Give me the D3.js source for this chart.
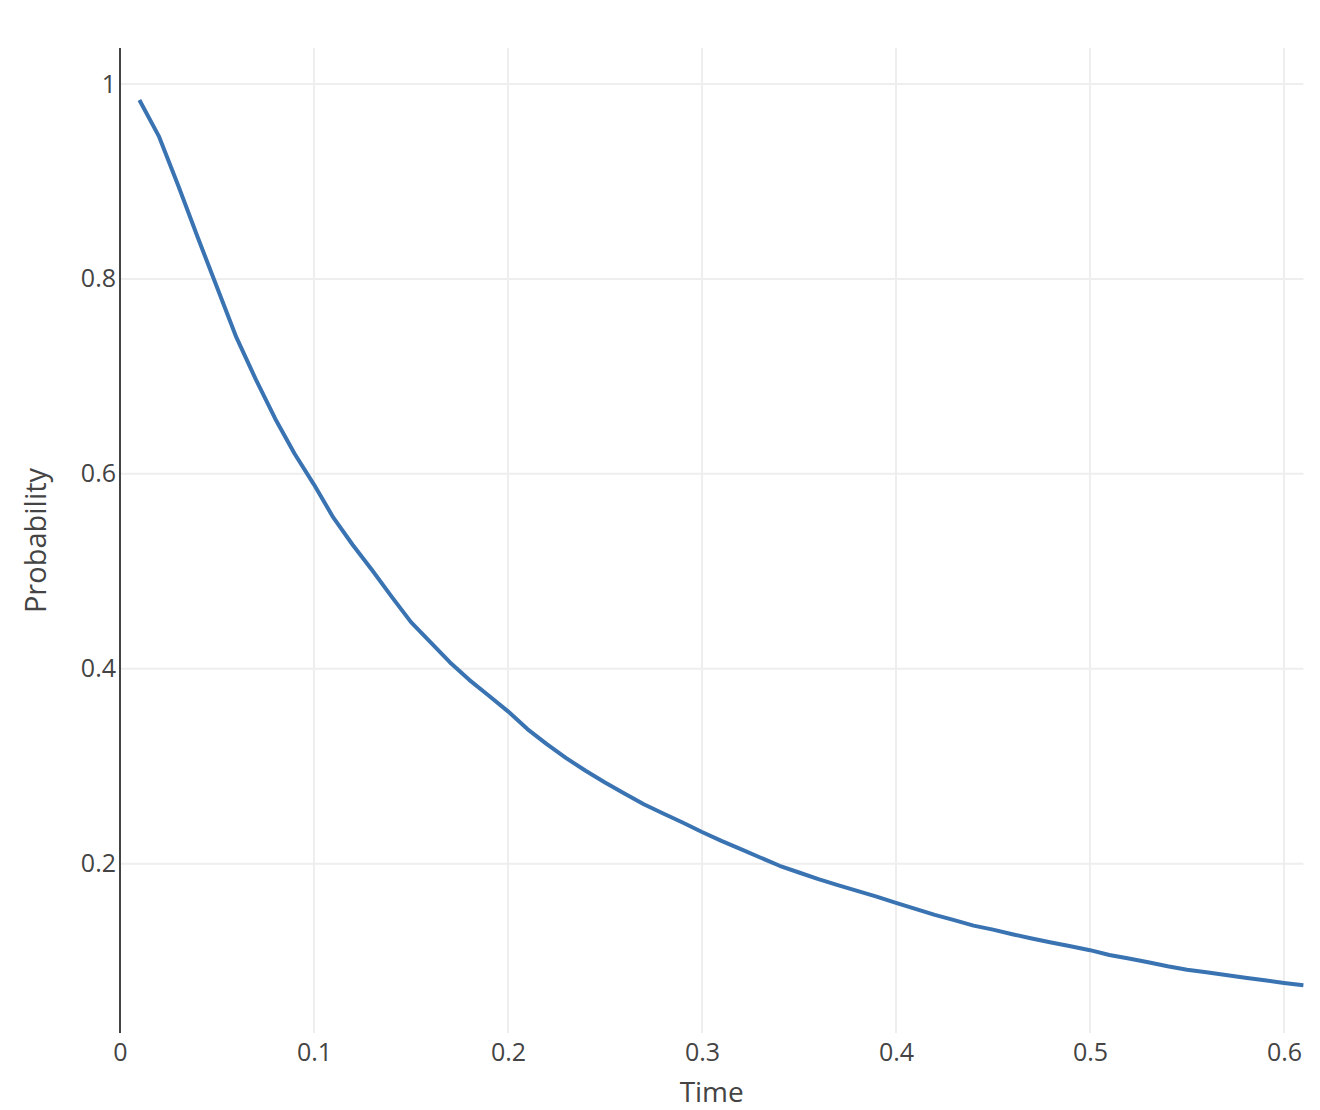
<!DOCTYPE html>
<html>
<head>
<meta charset="utf-8">
<script src="https://cdn.jsdelivr.net/npm/d3@7"></script>
<style>
  body { margin: 0; background: #fff; }
  text { font-family: "Open Sans", verdana, arial, sans-serif; fill: #444; }
</style>
</head>
<body>
<div id="chart"></div>
<script>
// Time values (x)
var times = [0.01, 0.02, 0.03, 0.04, 0.05, 0.06, 0.07, 0.08, 0.09, 0.10,
  0.11, 0.12, 0.13, 0.14, 0.15, 0.16, 0.17, 0.18, 0.19, 0.20,
  0.21, 0.22, 0.23, 0.24, 0.25, 0.26, 0.27, 0.28, 0.29, 0.30,
  0.31, 0.32, 0.33, 0.34, 0.35, 0.36, 0.37, 0.38, 0.39, 0.40,
  0.41, 0.42, 0.43, 0.44, 0.45, 0.46, 0.47, 0.48, 0.49, 0.50,
  0.51, 0.52, 0.53, 0.54, 0.55, 0.56, 0.57, 0.58, 0.59, 0.60, 0.61];

// Probability values (y)
var probability = [0.9836, 0.9466, 0.896, 0.843, 0.7915, 0.740, 0.697, 0.6566, 0.6206, 0.589,
  0.555, 0.527, 0.501, 0.474, 0.4478, 0.4272, 0.4067, 0.3886, 0.3725, 0.3563,
  0.3381, 0.3227, 0.3083, 0.2953, 0.2833, 0.272, 0.261, 0.2514, 0.2422, 0.2325,
  0.2234, 0.2149, 0.2063, 0.1978, 0.1909, 0.1841, 0.178, 0.172, 0.1662, 0.1598,
  0.1535, 0.1474, 0.142, 0.1364, 0.1323, 0.1276, 0.1231, 0.119, 0.1152, 0.1112,
  0.1063, 0.1026, 0.0988, 0.0947, 0.0912, 0.0885, 0.0858, 0.083, 0.0803, 0.0776, 0.0752];

var xTicks = [0, 0.1, 0.2, 0.3, 0.4, 0.5, 0.6];
var yTicks = [0.2, 0.4, 0.6, 0.8, 1];

// Width and height
var w = 1320;
var h = 1110;
// plot area (don't call these "top", it clashes with window.top)
var plotLeft = 120, plotRight = 1303.4, plotTop = 48, plotBottom = 1033;

var svg = d3.select("#chart")
  .append("svg")
  .attr("width", w)
  .attr("height", h);

// scale functions
var xScale = d3.scaleLinear().domain([0, 0.61]).range([plotLeft, plotRight]);
var yScale = d3.scaleLinear().domain([0.0262, 1.037]).range([plotBottom, plotTop]);

// grid lines
svg.append("g")
  .selectAll("line")
  .data(xTicks.filter(function (d) { return d > 0; }))
  .enter()
  .append("line")
  .attr("x1", function (d) { return xScale(d); })
  .attr("x2", function (d) { return xScale(d); })
  .attr("y1", plotTop)
  .attr("y2", plotBottom)
  .attr("stroke", "#eee")
  .attr("stroke-width", 2);

svg.append("g")
  .selectAll("line")
  .data(yTicks)
  .enter()
  .append("line")
  .attr("x1", plotLeft)
  .attr("x2", plotRight)
  .attr("y1", function (d) { return yScale(d); })
  .attr("y2", function (d) { return yScale(d); })
  .attr("stroke", "#eee")
  .attr("stroke-width", 2);

// x axis (labels only)
var xAxis = d3.axisBottom(xScale)
  .tickValues(xTicks)
  .tickSize(0)
  .tickPadding(10)
  .tickFormat(d3.format("~g"));
var gx = svg.append("g")
  .attr("transform", "translate(0," + plotBottom + ")")
  .call(xAxis);
gx.select(".domain").remove();
gx.selectAll("text")
  .attr("font-size", 25)
  .attr("fill", "#444")
  .style("font-family", "'Open Sans', verdana, arial, sans-serif");

// y axis
var yAxis = d3.axisLeft(yScale)
  .tickValues(yTicks)
  .tickSize(0)
  .tickPadding(4)
  .tickFormat(d3.format("~g"));
var gy = svg.append("g")
  .attr("transform", "translate(" + plotLeft + ",0)")
  .call(yAxis);
gy.select(".domain").remove();
gy.selectAll("text")
  .attr("font-size", 25)
  .attr("fill", "#444")
  .style("font-family", "'Open Sans', verdana, arial, sans-serif");

svg.append("line")
  .attr("x1", plotLeft)
  .attr("x2", plotLeft)
  .attr("y1", plotTop)
  .attr("y2", plotBottom)
  .attr("stroke", "#444")
  .attr("stroke-width", 2);

// the curve
var line = d3.line()
  .x(function (d, i) { return xScale(times[i]); })
  .y(function (d) { return yScale(d); });

svg.append("path")
  .datum(probability)
  .attr("d", line)
  .attr("fill", "none")
  .attr("stroke", "#3a73b2")
  .attr("stroke-width", 4)
  .attr("stroke-linejoin", "round");

// axis titles
svg.append("text")
  .attr("x", (plotLeft + plotRight) / 2)
  .attr("y", 1101.5)
  .attr("text-anchor", "middle")
  .attr("font-size", 28)
  .text("Time");

svg.append("text")
  .attr("transform", "translate(46," + (plotTop + plotBottom) / 2 + ") rotate(-90)")
  .attr("text-anchor", "middle")
  .attr("font-size", 29)
  .text("Probability");
</script>
</body>
</html>
